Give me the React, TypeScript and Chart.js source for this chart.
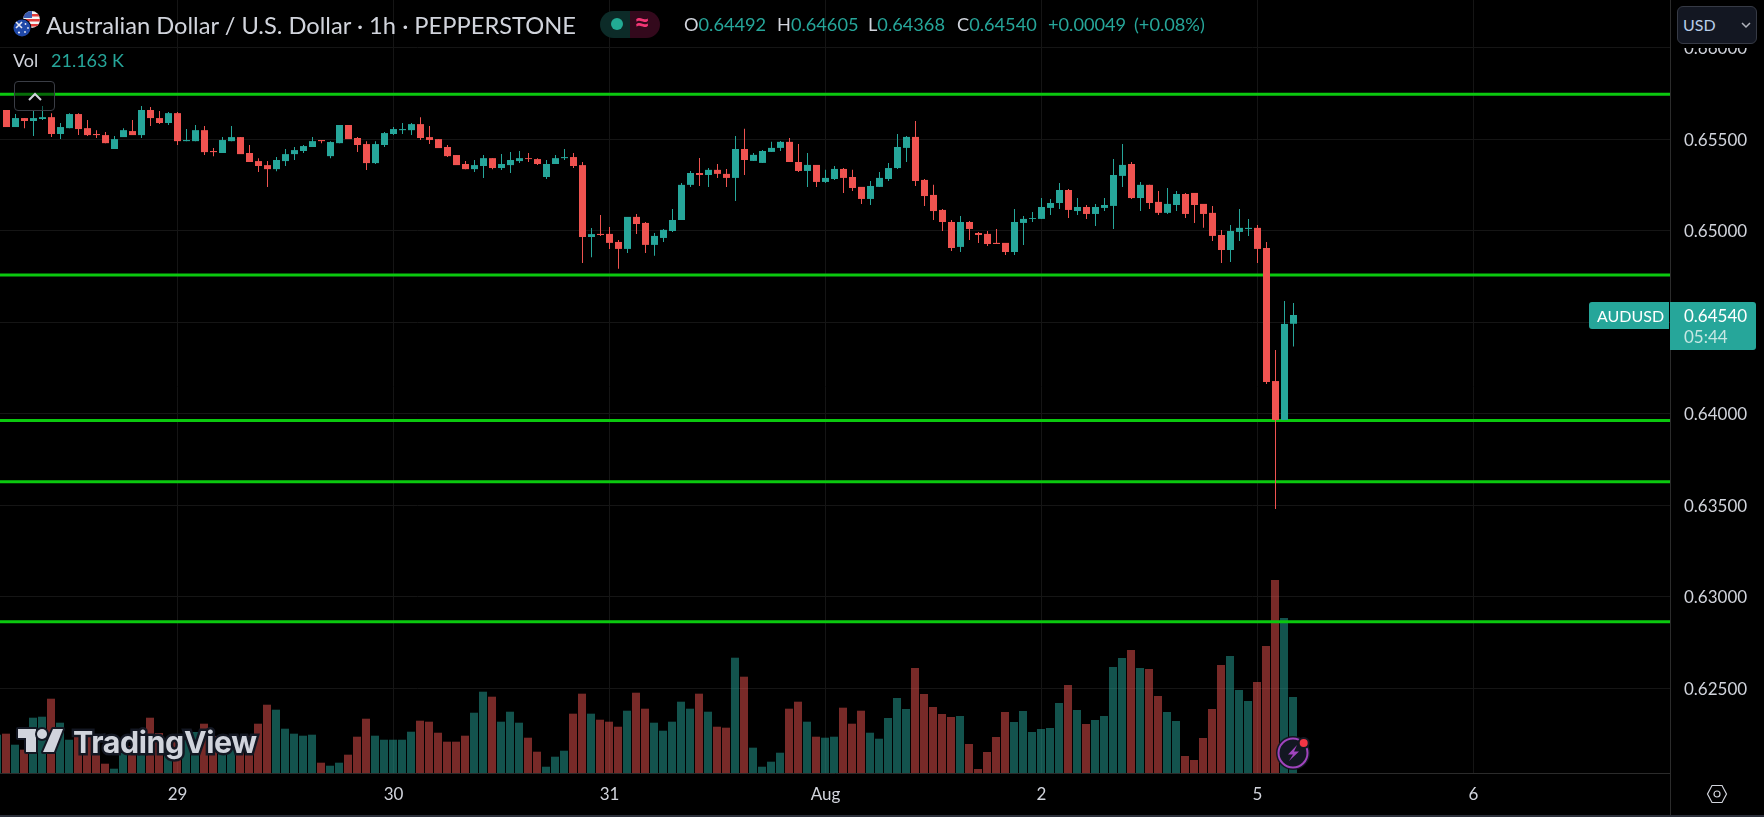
import React, { useEffect, useRef } from "react";
import { Chart, registerables } from "chart.js";

Chart.register(...registerables);

const opens = [
  .65660,.65567,.65616,.65600,.65611,.65621,.65529,.65561,.65638,.65561,
  .65529,.65523,.65447,.65512,.65545,.65523,.65660,.65616,.65589,.65643,
  .65490,.65490,.65550,.65436,.65425,.65490,.65512,.65425,.65381,.65359,
  .65337,.65381,.65419,.65436,.65458,.65496,.65408,.65479,.65578,.65507,
  .65474,.65370,.65469,.65529,.65550,.65550,.65583,.65512,.65501,.65458,
  .65414,.65365,.65337,.65354,.65397,.65343,.65359,.65381,.65397,.65392,
  .65294,.65365,.65397,.65403,.65359,.64966,.64983,.64983,.64939,.64901,
  .65076,.65043,.64923,.64961,.64999,.65059,.65251,.65316,.65305,.65333,
  .65311,.65289,.65447,.65382,.65371,.65431,.65453,.65486,.65376,.65327,
  .65360,.65267,.65283,.65338,.65294,.65240,.65174,.65240,.65283,.65343,
  .65453,.65513,.65278,.65196,.65114,.65048,.64912,.65048,.64988,.64983,
  .64934,.64934,.64884,.65043,.65065,.65065,.65125,.65152,.65223,.65108,
  .65130,.65092,.65125,.65136,.65300,.65365,.65179,.65251,.65158,.65098,
  .65141,.65201,.65207,.65147,.65098,.64977,.64895,.64994,.65010,.65016,
  .64906,.64179,.63966,.64492,
];
const highs = [
  .65660,.65638,.65616,.65660,.65682,.65643,.65589,.65643,.65643,.65605,
  .65550,.65540,.65518,.65561,.65605,.65682,.65676,.65654,.65649,.65649,
  .65556,.65578,.65572,.65452,.65512,.65572,.65512,.65469,.65397,.65381,
  .65403,.65447,.65458,.65469,.65512,.65496,.65490,.65578,.65578,.65512,
  .65490,.65490,.65540,.65567,.65589,.65589,.65621,.65572,.65501,.65469,
  .65414,.65381,.65387,.65414,.65397,.65419,.65430,.65436,.65425,.65397,
  .65387,.65414,.65447,.65425,.65376,.65015,.65087,.65021,.64950,.65076,
  .65092,.65048,.64988,.65010,.65119,.65261,.65327,.65398,.65343,.65365,
  .65338,.65518,.65557,.65425,.65442,.65486,.65491,.65507,.65475,.65425,
  .65360,.65333,.65354,.65343,.65333,.65240,.65272,.65322,.65371,.65529,
  .65518,.65600,.65283,.65251,.65119,.65059,.65081,.65054,.64994,.64999,
  .65010,.64934,.65119,.65081,.65103,.65179,.65174,.65261,.65229,.65179,
  .65141,.65147,.65179,.65393,.65475,.65376,.65267,.65251,.65218,.65234,
  .65218,.65207,.65207,.65147,.65136,.65005,.65032,.65119,.65065,.65032,
  .64939,.64349,.64616,.64605,
];
const lows = [
  .65567,.65567,.65561,.65518,.65605,.65512,.65501,.65561,.65523,.65518,
  .65507,.65479,.65447,.65512,.65523,.65507,.65572,.65583,.65578,.65469,
  .65490,.65490,.65414,.65408,.65425,.65490,.65419,.65376,.65321,.65239,
  .65326,.65354,.65387,.65425,.65458,.65479,.65397,.65479,.65501,.65430,
  .65332,.65365,.65458,.65523,.65529,.65523,.65496,.65474,.65452,.65403,
  .65359,.65337,.65321,.65288,.65337,.65332,.65316,.65370,.65376,.65359,
  .65283,.65365,.65387,.65343,.64824,.64856,.64972,.64901,.64792,.64879,
  .64983,.64879,.64863,.64939,.64994,.65059,.65240,.65245,.65240,.65289,
  .65240,.65163,.65305,.65382,.65371,.65431,.65436,.65376,.65322,.65240,
  .65240,.65261,.65278,.65207,.65218,.65147,.65141,.65240,.65272,.65338,
  .65376,.65245,.65136,.65059,.64999,.64890,.64884,.64950,.64934,.64917,
  .64928,.64868,.64868,.64923,.65048,.65065,.65087,.65119,.65070,.65087,
  .65065,.65026,.65108,.65010,.65240,.65174,.65108,.65119,.65087,.65092,
  .65108,.65070,.65043,.65016,.64944,.64824,.64830,.64944,.64972,.64824,
  .64163,.63480,.63966,.64368,
];
const closes = [
  .65567,.65616,.65600,.65616,.65621,.65529,.65567,.65638,.65556,.65523,
  .65523,.65479,.65501,.65550,.65523,.65660,.65616,.65589,.65643,.65490,
  .65496,.65550,.65430,.65430,.65496,.65512,.65419,.65376,.65354,.65337,
  .65387,.65419,.65441,.65463,.65490,.65490,.65485,.65578,.65501,.65469,
  .65370,.65474,.65534,.65556,.65556,.65583,.65507,.65496,.65452,.65408,
  .65359,.65337,.65359,.65397,.65343,.65365,.65387,.65397,.65392,.65365,
  .65365,.65397,.65403,.65354,.64966,.64982,.64977,.64934,.64901,.65076,
  .65037,.64923,.64972,.65005,.65059,.65251,.65316,.65305,.65333,.65311,
  .65289,.65447,.65387,.65415,.65436,.65453,.65486,.65376,.65327,.65360,
  .65267,.65289,.65338,.65289,.65234,.65174,.65245,.65289,.65343,.65458,
  .65513,.65272,.65190,.65108,.65048,.64906,.65048,.65010,.64977,.64928,
  .64928,.64884,.65048,.65065,.65070,.65130,.65152,.65223,.65114,.65130,
  .65092,.65130,.65141,.65305,.65360,.65179,.65251,.65152,.65098,.65147,
  .65201,.65092,.65141,.65092,.64972,.64895,.64999,.65016,.65016,.64901,
  .64174,.63966,.64491,.64540,
];
// Volume in thousands; the first value is the bar just before the first visible candle.
const earlierVolume = 10.67;
const volumes = [
  10.95,7.88,6.49,15.4,15.68,20.69,14.01,9.27,10.3,10.3,
  10.3,2.59,1.2,5.57,7.52,8.36,15.4,11.14,6.41,10.3,
  9.19,11.42,13.73,10.3,7.52,7.52,9.19,10.3,13.73,19.02,
  17.63,12.34,10.95,10.39,10.67,2.87,2.03,2.87,5.1,10.11,
  15.12,10.39,9.27,9.27,9.27,11.5,14.57,14.29,11.22,8.72,
  8.72,10.39,16.79,22.64,21.25,14.29,17.07,14.01,9.83,5.93,
  1.75,4.54,6.21,16.52,22.09,16.52,14.84,14.29,12.89,17.35,
  22.36,17.91,14.01,11.78,14.29,19.86,17.91,22.09,17.07,12.89,
  12.62,32.11,26.82,7.05,1.75,3.15,5.65,17.91,19.86,14.29,
  10.11,9.83,10.11,18.19,13.73,17.35,11.22,9.55,15.32,20.89,
  17.82,29.24,22,18.38,16.43,15.6,15.87,8.08,1.11,5.85,
  10.03,16.99,14.2,17.27,11.42,12.25,12.53,19.5,24.51,17.55,
  13.65,14.76,15.87,29.52,32.03,34.26,29.24,28.96,21.44,16.99,
  14.48,4.73,3.62,9.75,17.82,30.08,32.58,23.12,20.05,25.34,
  35.37,53.75,43.17,21.163,
];
const levels = [0.65746, 0.64758, 0.63964, 0.63629, 0.62864];
const priceTicks = [0.625, 0.63, 0.635, 0.64, 0.645, 0.65, 0.655, 0.66];
const dayTickBars = [19, 43, 67, 91, 115, 139, 163];
const dayTickLabels = ["29", "30", "31", "Aug", "2", "5", "6"];

const UP = "#26a69a";
const DOWN = "#ef5350";
const UP_VOL = "rgba(38,166,154,0.5)";
const DOWN_VOL = "rgba(239,83,80,0.5)";
const LEVEL = "#0bc80f";
const TEXT = "#d1d4dc";
const GRID = "#151515";
const FONT = "Lato, 'Noto Sans', sans-serif";

const X_MIN = -6.5 / 9;
const X_MAX = (1670 - 6.5) / 9;

const T = ({ x, cy, size = 18, color = TEXT, weight = 400, children, style = {} }: any) => (
  <div
    style={{
      position: "absolute",
      left: x,
      top: cy - 20,
      height: 40,
      lineHeight: "40px",
      fontFamily: FONT,
      fontSize: size,
      fontWeight: weight,
      color,
      whiteSpace: "nowrap",
      ...style,
    }}
  >
    {children}
  </div>
);

export default function App() {
  const ref = useRef<HTMLCanvasElement | null>(null);

  useEffect(() => {
    const isUp = (i: number) => closes[i] >= opens[i];
    const idx = opens.map((_, i) => i);
    const chart = new Chart(ref.current as HTMLCanvasElement, {
      type: "bar",
      data: {
        datasets: [
          {
            label: "Bodies",
            order: 1,
            xAxisID: "x",
            yAxisID: "y",
            barThickness: 7,
            grouped: false,
            inflateAmount: 0,
            data: idx.map((i) => ({ x: i, y: [opens[i], closes[i]] })),
            backgroundColor: idx.map((i) => (isUp(i) ? UP : DOWN)),
          },
          {
            label: "Wicks",
            order: 2,
            xAxisID: "x",
            yAxisID: "y",
            barThickness: 1,
            grouped: false,
            inflateAmount: 0,
            data: idx.map((i) => ({ x: i, y: [lows[i], highs[i]] })),
            backgroundColor: idx.map((i) => (isUp(i) ? UP : DOWN)),
          },
          ...levels.map((level, n) => ({
            type: "line",
            label: "Level " + n,
            order: 3,
            xAxisID: "x",
            yAxisID: "y",
            data: [
              { x: X_MIN, y: level },
              { x: X_MAX, y: level },
            ],
            borderColor: LEVEL,
            borderWidth: 3,
            pointRadius: 0,
          })),
          {
            label: "Vol",
            order: 4,
            xAxisID: "x2",
            yAxisID: "y2",
            barThickness: 8,
            grouped: false,
            inflateAmount: 0,
            data: [
              { x: -1, y: earlierVolume },
              ...idx.map((i) => ({ x: i, y: volumes[i] })),
            ],
            backgroundColor: [UP_VOL, ...idx.map((i) => (isUp(i) ? UP_VOL : DOWN_VOL))],
          },
        ] as any,
      },
      options: {
        animation: false,
        responsive: false,
        maintainAspectRatio: false,
        layout: { padding: 0 },
        plugins: { legend: { display: false }, tooltip: { enabled: false }, title: { display: false } },
        scales: {
          x: {
            type: "linear",
            position: "bottom",
            offset: false,
            min: X_MIN,
            max: X_MAX,
            grid: { color: GRID, drawTicks: false, offset: false },
            border: { color: "#2b2b2b" },
            ticks: {
              padding: 11,
              maxRotation: 0,
              autoSkip: false,
              color: TEXT,
              font: { family: FONT, size: 17 },
              callback: (v: any) => dayTickLabels[dayTickBars.indexOf(v)] ?? "",
            },
            afterBuildTicks: (s: any) => {
              s.ticks = dayTickBars.map((value) => ({ value }));
            },
            afterFit: (s: any) => {
              s.height = 44;
              s.paddingLeft = 0;
              s.paddingRight = 0;
            },
          },
          x2: {
            type: "linear",
            display: false,
            offset: false,
            min: -6 / 9,
            max: (1670 - 6) / 9,
          },
          y: {
            type: "linear",
            position: "right",
            min: 0.620372,
            max: 0.662612,
            grid: { color: GRID, drawTicks: false },
            border: { color: "#2b2b2b" },
            ticks: {
              padding: 14,
              labelOffset: 1,
              color: TEXT,
              font: { family: FONT, size: 17 },
              callback: (v: any) => Number(v).toFixed(5),
            },
            afterBuildTicks: (s: any) => {
              s.ticks = priceTicks.map((value) => ({ value }));
            },
            afterFit: (s: any) => {
              s.width = 94;
              s.paddingTop = 0;
              s.paddingBottom = 0;
            },
          },
          y2: {
            type: "linear",
            display: false,
            min: 0,
            max: 215.28,
          },
        },
      } as any,
    });
    return () => chart.destroy();
  }, []);

  return (
    <div style={{ position: "fixed", left: 0, top: 0, width: 1764, height: 817, background: "#000", overflow: "hidden" }}>
      <canvas ref={ref} width={1764} height={817} style={{ position: "absolute", left: 0, top: 0, width: 1764, height: 817 }} />

      {/* title row */}
      <svg style={{ position: "absolute", left: 10, top: 8 }} width="36" height="34" viewBox="0 0 36 34">
        <defs>
          <clipPath id="us"><circle cx="21.5" cy="11.5" r="8.5" /></clipPath>
        </defs>
        <g clipPath="url(#us)">
          <rect x="12" y="2" width="20" height="20" fill="#f4f4f4" />
          <rect x="12" y="6" width="20" height="2.5" fill="#e23b3b" />
          <rect x="12" y="11" width="20" height="2.5" fill="#e23b3b" />
          <rect x="12" y="16" width="20" height="2.5" fill="#e23b3b" />
          <rect x="12" y="2" width="10" height="8" fill="#3a5bb0" />
        </g>
        <circle cx="12" cy="20" r="9.5" fill="#000" />
        <circle cx="12" cy="20" r="8.5" fill="#1f48a8" />
        <path d="M6 14 L12 20 M12 14 L6 20" stroke="#e9e9f4" strokeWidth="1.6" />
        <g fill="#e9e9f4">
          <circle cx="15.5" cy="16" r="0.9" />
          <circle cx="18" cy="20" r="0.9" />
          <circle cx="15" cy="24" r="0.9" />
          <circle cx="9" cy="24.5" r="1.1" />
        </g>
      </svg>
      <T x={46} cy={25} size={23.7}>Australian Dollar / U.S. Dollar · 1h · PEPPERSTONE</T>
      <T x={13} cy={60} size={18}>Vol</T>
      <T x={51} cy={60} size={18} color={UP}>21.163 K</T>

      {/* collapse button */}
      <div style={{ position: "absolute", left: 14, top: 81, width: 41, height: 30, boxSizing: "border-box", border: "1px solid #3a3d45", borderRadius: 4, background: "rgba(0,0,0,0.45)" }} />
      <svg style={{ position: "absolute", left: 27, top: 91 }} width="16" height="12" viewBox="0 0 16 12">
        <path d="M2 9 L8 3 L14 9" fill="none" stroke="#d1d4dc" strokeWidth="2" />
      </svg>

      {/* market status pill */}
      <div style={{ position: "absolute", left: 600, top: 11, width: 30, height: 27, background: "#0c2b28", borderRadius: "14px 0 0 14px" }} />
      <div style={{ position: "absolute", left: 630, top: 11, width: 30, height: 27, background: "#33091c", borderRadius: "0 14px 14px 0" }} />
      <div style={{ position: "absolute", left: 611, top: 18, width: 12, height: 12, background: "#22ab94", borderRadius: 6 }} />
      <T x={634} cy={22} size={28} color="#f23675" weight={700}>≈</T>

      {/* OHLC */}
      <T x={684} cy={24} size={18.2}>O<span style={{ color: UP }}>0.64492</span></T>
      <T x={777} cy={24} size={18.2}>H<span style={{ color: UP }}>0.64605</span></T>
      <T x={868} cy={24} size={18.2}>L<span style={{ color: UP }}>0.64368</span></T>
      <T x={957} cy={24} size={18.2}>C<span style={{ color: UP }}>0.64540</span></T>
      <T x={1048} cy={24} size={18.2} color={UP}>+0.00049</T>
      <T x={1134} cy={24} size={18.2} color={UP}>(+0.08%)</T>

      {/* price axis overlay */}
      <div style={{ position: "absolute", left: 1671, top: 0, width: 93, height: 48, background: "#000" }} />
      <div style={{ position: "absolute", left: 1677, top: 6, width: 80, height: 38, boxSizing: "border-box", background: "#131722", border: "1px solid #363a45", borderRadius: 6 }} />
      <T x={1683} cy={25} size={16} color="#b8cde8">USD</T>
      <svg style={{ position: "absolute", left: 1741, top: 21 }} width="10" height="8" viewBox="0 0 10 8">
        <path d="M1 2 L5 6 L9 2" fill="none" stroke="#b2b5be" strokeWidth="1.5" />
      </svg>

      {/* last price labels */}
      <div style={{ position: "absolute", left: 1589, top: 302, width: 80, height: 27, background: UP, borderRadius: "3px 0 0 3px" }} />
      <T x={1597} cy={315.5} size={16} color="#fff">AUDUSD</T>
      <div style={{ position: "absolute", left: 1670, top: 302, width: 86, height: 48, background: UP, borderRadius: "0 3px 3px 0" }} />
      <T x={1684} cy={315.5} size={17} color="#fff">0.64540</T>
      <T x={1684} cy={337} size={17} color="#c6e7e3">05:44</T>

      {/* TradingView watermark */}
      <svg style={{ position: "absolute", left: 15, top: 724, overflow: "visible" }} width="50" height="32" viewBox="0 0 50 32">
        <g fill="#d1d4dc" stroke="#131722" strokeWidth="4" style={{ paintOrder: "stroke" }} strokeLinejoin="round">
          <path d="M21 28 H11 V14 H3 V5 H21 Z" />
          <path d="M39 28 H28 L38 5 H48 Z" />
          <circle cx="27" cy="10" r="5" />
        </g>
      </svg>
      <T
        x={73}
        cy={742}
        size={30.4}
        weight={700}
        style={{ WebkitTextStroke: "5px #131722", paintOrder: "stroke fill", letterSpacing: -0.4, fontFamily: "Inter, " + FONT }}
      >
        TradingView
      </T>

      {/* alert badge */}
      <svg style={{ position: "absolute", left: 1274, top: 734 }} width="40" height="40" viewBox="0 0 40 40">
        <circle cx="19" cy="19" r="17" fill="#131722" />
        <circle cx="19" cy="19" r="14.5" fill="#131722" stroke="#a044bd" strokeWidth="2" />
        <path d="M23 11 L14 20.5 H19 L15 27 L25 17.5 H20 Z" fill="#a044bd" />
        <circle cx="29.7" cy="9" r="6" fill="#131722" />
        <circle cx="29.7" cy="9" r="4" fill="#f23645" />
      </svg>

      {/* settings icon and frame lines */}
      <svg style={{ position: "absolute", left: 1706, top: 783 }} width="22" height="22" viewBox="0 0 22 22">
        <path d="M6 2.5 H16 L20.5 11 L16 19.5 H6 L1.5 11 Z" fill="none" stroke="#d1d4dc" strokeWidth="1.2" />
        <circle cx="11" cy="11" r="3" fill="none" stroke="#d1d4dc" strokeWidth="1.2" />
      </svg>
      <div style={{ position: "absolute", left: 1670, top: 773, width: 1, height: 42, background: "#2b2b2b" }} />
      <div style={{ position: "absolute", left: 0, top: 815, width: 1764, height: 2, background: "#2a2e39" }} />
    </div>
  );
}
